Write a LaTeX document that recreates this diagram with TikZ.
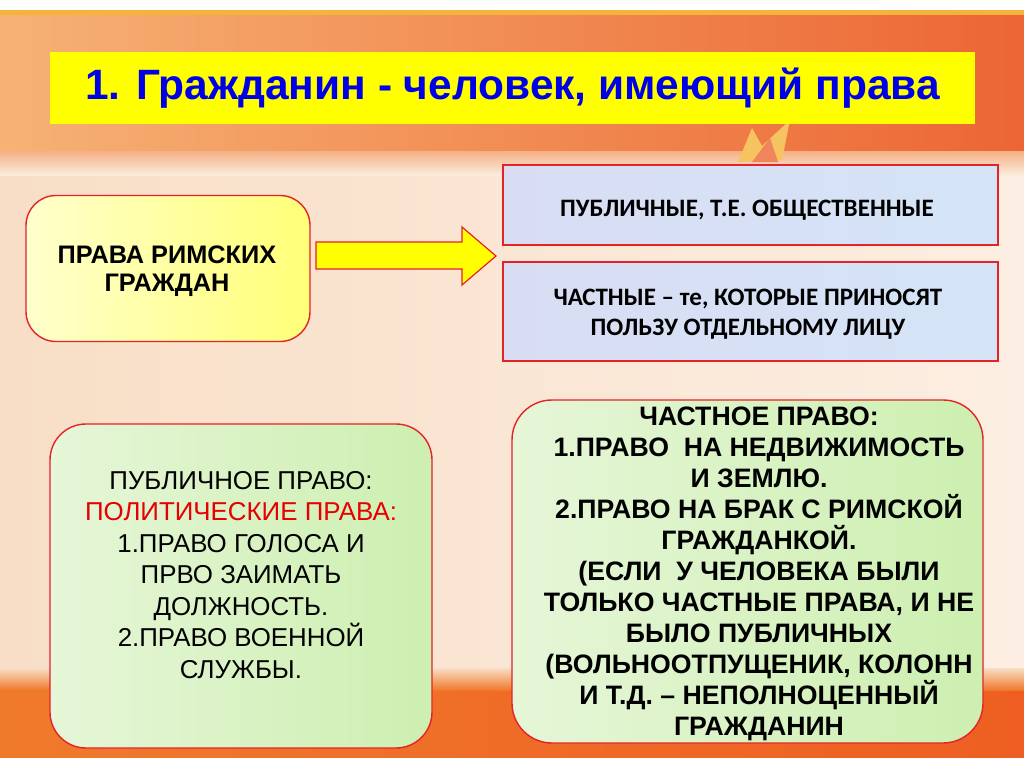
\documentclass[tikz,border=0pt]{standalone}
\usepackage{fontspec}
\setmainfont{Liberation Sans}
\newfontfamily\carl[Ligatures=TeX]{Carlito}
\usetikzlibrary{calc}
\newcommand{\pxx}{*0.75pt}
\definecolor{bandA}{HTML}{F6B274}
\definecolor{bandB}{HTML}{F2874A}
\definecolor{bandC}{HTML}{EC6634}
\definecolor{goldline}{HTML}{F4B43A}
\definecolor{creamA}{HTML}{F8DEC6}
\definecolor{creamB}{HTML}{FCEEE2}
\definecolor{botA}{HTML}{F07A2C}
\definecolor{botB}{HTML}{EE5E22}
\definecolor{ttlyellow}{HTML}{FFFF00}
\definecolor{ttlblue}{HTML}{0000E6}
\definecolor{boxred}{HTML}{E4222A}
\definecolor{yelA}{HTML}{FFFFCC}
\definecolor{yelB}{HTML}{FFFF78}
\definecolor{blueA}{HTML}{D9DDF4}
\definecolor{blueM}{HTML}{E6D8EE}
\definecolor{blueB}{HTML}{D4E4F6}
\definecolor{grnA}{HTML}{E6F6D8}
\definecolor{grnB}{HTML}{CDEFB0}
\definecolor{redtext}{HTML}{E60000}
\tikzset{
  boxline/.style={draw=boxred, line width=1.4\pxx},
  yelbox/.style={boxline, rounded corners=30\pxx, left color=yelA, right color=yelB, inner sep=0pt},
  bluebox/.style={boxline, left color=blueA, middle color=blueM, right color=blueB, inner sep=0pt},
  grnbox/.style={boxline, left color=grnA, right color=grnB, inner sep=0pt},
  txt/.style={align=center, inner sep=0pt, text=black},
}
\begin{document}
\begin{tikzpicture}[x=0.75pt,y=-0.75pt]
\useasboundingbox (0,0) rectangle (1024,767);
% background
\fill[white] (0,0) rectangle (1024,767);
\shade[left color=creamA, right color=creamB] (0,150) rectangle (1024,690);
\shade[top color=bandB!70!creamA, bottom color=creamA!60!white] (0,145) rectangle (1024,175);
\shade[left color=bandA, middle color=bandB, right color=bandC] (0,14) rectangle (1024,150);
\fill[goldline] (0,10) rectangle (1024,15);
\shade[left color=botA, right color=botB] (0,688) rectangle (1024,757);
\shade[top color=creamA, bottom color=botA] (0,668) rectangle (1024,690);
% decorative star
\fill[goldline!80!white] (738,162) -- (752,128) -- (762,146) -- (790,120) -- (782,160) -- cycle;
\fill[bandC!80!white] (752,162) -- (770,138) -- (778,162) -- cycle;

% title
\node[fill=ttlyellow, minimum width=925\pxx, minimum height=72\pxx, inner sep=0pt] (title) at (512.5,88)
  {\resizebox{641pt}{!}{\color{ttlblue}\bfseries 1. Гражданин - человек, имеющий права}};

% left yellow box
\node[yelbox, minimum width=284\pxx, minimum height=146\pxx] (roman) at (168,268.5) {};
\node[txt, font=\fontsize{19pt}{21pt}\selectfont\bfseries] (romant) at (167,271) {ПРАВА РИМСКИХ\\ГРАЖДАН};

% right boxes
\node[bluebox, minimum width=495\pxx, minimum height=80\pxx] (pub) at (750.5,205) {};
\node[txt, font=\carl\fontsize{18.8pt}{22.5pt}\selectfont\bfseries] (pubt) at (747,210) {ПУБЛИЧНЫЕ, Т.Е. ОБЩЕСТВЕННЫЕ};
\node[bluebox, minimum width=495\pxx, minimum height=99\pxx] (priv) at (750.5,311.5) {};
\node[txt, font=\carl\fontsize{18.8pt}{22.5pt}\selectfont\bfseries] (privt) at (748,314) {ЧАСТНЫЕ – те, КОТОРЫЕ ПРИНОСЯТ\\ПОЛЬЗУ ОТДЕЛЬНОМУ ЛИЦУ};

% arrow
\filldraw[fill=ttlyellow, draw=boxred, line width=1.2\pxx, line join=miter]
  (316,242) -- (462,242) -- (462,227) -- (496,256) -- (462,285) -- (462,269) -- (316,269) -- cycle;

% bottom left box
\node[grnbox, rounded corners=36\pxx, minimum width=382\pxx, minimum height=324\pxx] (publaw) at (241,586) {};
\node[txt, font=\fontsize{19.4pt}{23.6pt}\selectfont] (publawt) at (241,575)
  {ПУБЛИЧНОЕ ПРАВО:\\\textcolor{redtext}{ПОЛИТИЧЕСКИЕ ПРАВА:}\\1.ПРАВО ГОЛОСА И\\ПРВО ЗАИМАТЬ\\ДОЛЖНОСТЬ.\\2.ПРАВО ВОЕННОЙ\\СЛУЖБЫ.};

% bottom right box
\node[grnbox, rounded corners=40\pxx, minimum width=471\pxx, minimum height=343\pxx] (privlaw) at (747.5,571.5) {};
\node[txt, font=\fontsize{20pt}{23.25pt}\selectfont\bfseries] (privlawt) at (759,574)
  {ЧАСТНОЕ ПРАВО:\\1.ПРАВО\ \ НА НЕДВИЖИМОСТЬ\\И ЗЕМЛЮ.\\2.ПРАВО НА БРАК С РИМСКОЙ\\ГРАЖДАНКОЙ.\\(ЕСЛИ\ \ У ЧЕЛОВЕКА БЫЛИ\\ТОЛЬКО ЧАСТНЫЕ ПРАВА, И НЕ\\БЫЛО ПУБЛИЧНЫХ\\(ВОЛЬНООТПУЩЕНИК, КОЛОНН\\И Т.Д. -- НЕПОЛНОЦЕННЫЙ\\ГРАЖДАНИН};
\end{tikzpicture}
\end{document}
